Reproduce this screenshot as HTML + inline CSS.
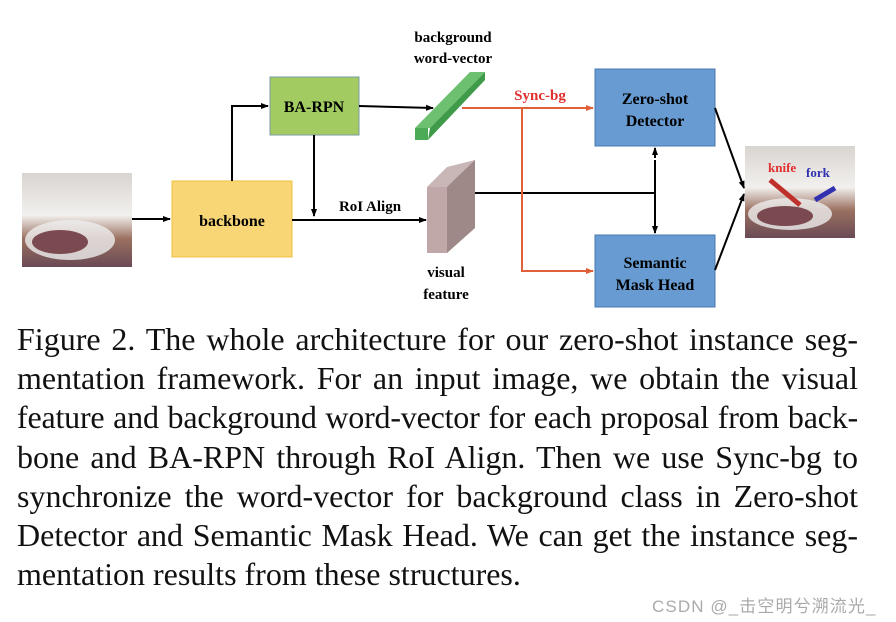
<!DOCTYPE html>
<html><head><meta charset="utf-8"><style>
body{margin:0;width:896px;height:622px;background:#fff;position:relative;overflow:hidden;font-family:"Liberation Serif",serif}
.cap{position:absolute;left:17px;top:320px;width:841px;font-size:32px;line-height:39.2px;color:#111}
.cap div{text-align:justify;text-align-last:justify;white-space:nowrap}
.cap div.l{text-align-last:left}
.cap div.t{letter-spacing:-0.2px}
.wm{position:absolute;left:652px;top:592px;font-family:"Liberation Sans","Noto Sans CJK SC",sans-serif;font-size:17px;letter-spacing:1.1px;color:#aaa;white-space:nowrap}
</style></head><body>
<svg width="896" height="320" style="position:absolute;left:0;top:0" font-family="Liberation Serif" font-weight="bold">
<defs>
<marker id="a" markerWidth="8" markerHeight="8" refX="7" refY="4" orient="auto" markerUnits="userSpaceOnUse"><path d="M0,1 L8,4 L0,7z" fill="#000"/></marker>
<marker id="r" markerWidth="8" markerHeight="8" refX="7" refY="4" orient="auto" markerUnits="userSpaceOnUse"><path d="M0,1 L8,4 L0,7z" fill="#e0603a"/></marker>
<linearGradient id="p1" x1="0" y1="0" x2="0" y2="1"><stop offset="0" stop-color="#d8d4d0"/><stop offset=".45" stop-color="#f2f0ee"/><stop offset=".7" stop-color="#9a7060"/><stop offset="1" stop-color="#6a4a55"/></linearGradient>
</defs>
<rect x="22" y="173" width="110" height="94" fill="url(#p1)"/>
<ellipse cx="70" cy="240" rx="45" ry="20" fill="#eee" opacity=".8"/>
<ellipse cx="60" cy="242" rx="28" ry="12" fill="#7a4a50"/>
<rect x="745" y="146" width="110" height="92" fill="url(#p1)"/>
<ellipse cx="790" cy="214" rx="42" ry="16" fill="#eee" opacity=".8"/>
<ellipse cx="785" cy="216" rx="28" ry="10" fill="#7a4a50"/>
<path d="M770,180 L800,205" stroke="#c0302a" stroke-width="5"/>
<path d="M815,200 L835,188" stroke="#3030b0" stroke-width="5"/>
<text x="768" y="172" font-size="13" fill="#e03030">knife</text>
<text x="806" y="177" font-size="13" fill="#3030b0">fork</text>
<rect x="172" y="181" width="120" height="76" fill="#f9d675" stroke="#f0c040"/>
<text x="232" y="226" font-size="16" text-anchor="middle">backbone</text>
<rect x="270" y="77" width="89" height="58" fill="#a2cc62" stroke="#7a9aa0"/>
<text x="314" y="112" font-size="16" text-anchor="middle">BA-RPN</text>
<rect x="595" y="69" width="120" height="77" fill="#679bd1" stroke="#4a7ab0"/>
<text x="655" y="104" font-size="16" text-anchor="middle">Zero-shot</text>
<text x="655" y="126" font-size="16" text-anchor="middle">Detector</text>
<rect x="595" y="235" width="120" height="72" fill="#679bd1" stroke="#4a7ab0"/>
<text x="655" y="268" font-size="16" text-anchor="middle">Semantic</text>
<text x="655" y="290" font-size="16" text-anchor="middle">Mask Head</text>
<polygon points="415,128 470,72 485,72 430,128" fill="#6cc070"/>
<polygon points="430,128 485,72 485,80 428,140" fill="#3f9a4a"/>
<rect x="415" y="128" width="13" height="12" fill="#4aaa55"/>
<polygon points="427,187 447,167 475,160 455,187" fill="#c9b6b6"/>
<polygon points="447,187 475,160 475,228 447,253" fill="#9e8888"/>
<rect x="427" y="187" width="20" height="66" fill="#c0a8a8"/>
<text x="446" y="277" font-size="15" text-anchor="middle">visual</text>
<text x="446" y="299" font-size="15" text-anchor="middle">feature</text>
<text x="453" y="42" font-size="15" text-anchor="middle">background</text>
<text x="453" y="63" font-size="15" text-anchor="middle">word-vector</text>
<text x="370" y="211" font-size="15" text-anchor="middle">RoI Align</text>
<text x="540" y="100" font-size="15" fill="#e03030" text-anchor="middle">Sync-bg</text>
<g stroke="#000" stroke-width="2" fill="none">
<path d="M132,219 H170" marker-end="url(#a)"/>
<path d="M232,181 V106 H268" marker-end="url(#a)"/>
<path d="M359,106 L433,108" marker-end="url(#a)"/>
<path d="M314,135 V216" marker-end="url(#a)"/>
<path d="M292,220 H426" marker-end="url(#a)"/>
<path d="M475,193 H655"/>
<path d="M655,160 V222"/>
<path d="M655,158 V148" marker-end="url(#a)"/>
<path d="M655,222 V233" marker-end="url(#a)"/>
<path d="M715,108 L744,188" marker-end="url(#a)"/>
<path d="M715,270 L744,194" marker-end="url(#a)"/>
</g>
<g stroke="#e0603a" stroke-width="2" fill="none">
<path d="M462,108 H593" marker-end="url(#r)"/>
<path d="M522,108 V271 H593" marker-end="url(#r)"/>
</g>
</svg>
<div class="cap">
<div>Figure 2. The whole architecture for our zero-shot instance seg-</div>
<div>mentation framework. For an input image, we obtain the visual</div>
<div class="t">feature and background word-vector for each proposal from back-</div>
<div>bone and BA-RPN through RoI Align. Then we use Sync-bg to</div>
<div>synchronize the word-vector for background class in Zero-shot</div>
<div>Detector and Semantic Mask Head. We can get the instance seg-</div>
<div class="l">mentation results from these structures.</div>
</div>
<div class="wm">CSDN @_击空明兮溯流光_</div>
</body></html>
